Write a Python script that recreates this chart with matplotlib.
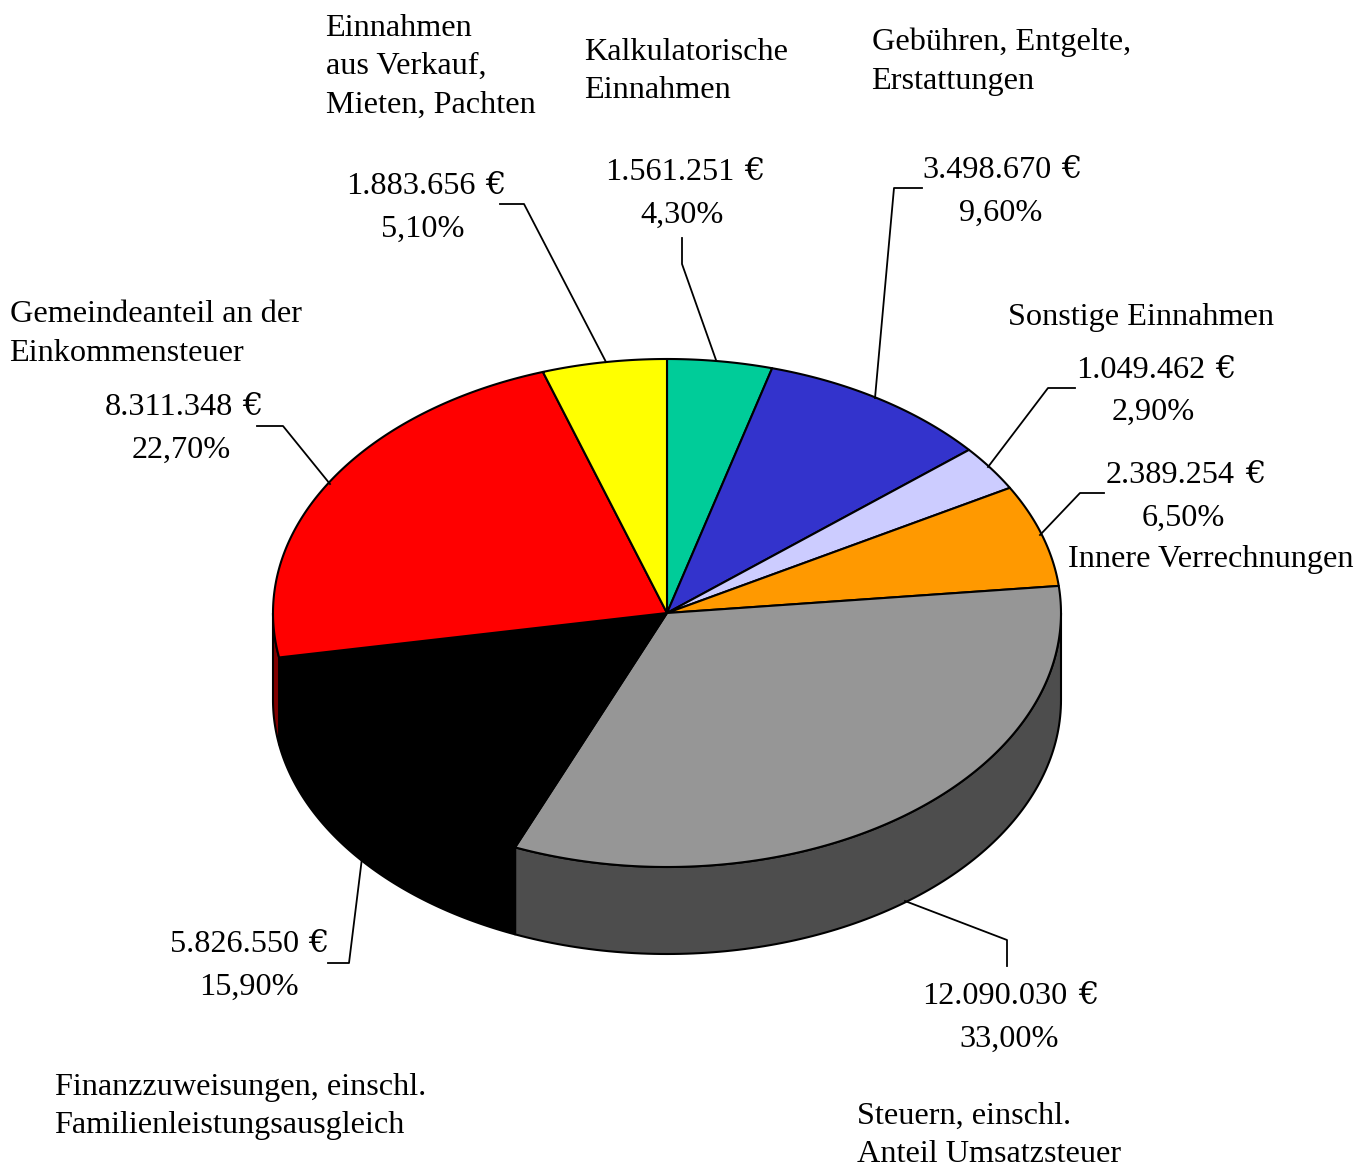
"""
3D style pie chart of municipal income, drawn as polygons on a pixel sized axes.
"""

import numpy as np
import matplotlib
matplotlib.use('Agg')
import matplotlib.pyplot as plt

# Slices, clockwise from the top of the pie
names = ['Kalkulatorische Einnahmen', 'Gebühren, Entgelte, Erstattungen', 'Sonstige Einnahmen',
         'Innere Verrechnungen', 'Steuern, einschl. Anteil Umsatzsteuer',
         'Finanzzuweisungen, einschl. Familienleistungsausgleich',
         'Gemeindeanteil an der Einkommensteuer', 'Einnahmen aus Verkauf, Mieten, Pachten']
shares = [4.3, 9.6, 2.9, 6.5, 33.0, 15.9, 22.7, 5.1]
top_colors = ['#00cc99', '#3333cc', '#ccccff', '#ff9900', '#969696', '#000000', '#ff0000', '#ffff00']
wall_colors = ['#006650', '#1a1a66', '#666680', '#804d00', '#4d4d4d', '#000000', '#800000', '#808000']

# Text blocks: left edge, baseline of each line
name_lines = [
    ('Einnahmen', 325.5, 36), ('aus Verkauf,', 326, 73.5), ('Mieten, Pachten', 326, 112.5),
    ('Kalkulatorische', 584.5, 60), ('Einnahmen', 584.5, 98),
    ('Gebühren, Entgelte,', 872, 50), ('Erstattungen', 871.5, 89),
    ('Sonstige Einnahmen', 1008, 325.5),
    ('Innere Verrechnungen', 1068, 567.5),
    ('Gemeindeanteil an der', 10, 322.5), ('Einkommensteuer', 9.5, 361),
    ('Finanzzuweisungen, einschl.', 55, 1094.5), ('Familienleistungsausgleich', 54.5, 1132.5),
    ('Steuern, einschl.', 857, 1124), ('Anteil Umsatzsteuer', 857, 1162),
]
value_lines = [
    ('1.883.656', 346.5, 194.5), ('5,10%', 381, 237),
    ('1.561.251', 605.5, 180), ('4,30%', 640, 223),
    ('3.498.670', 922.5, 178.5), ('9,60%', 959, 221),
    ('1.049.462', 1076.5, 377.5), ('2,90%', 1112, 420),
    ('2.389.254', 1105.5, 483), ('6,50%', 1142, 526),
    ('8.311.348', 105, 415), ('22,70%', 132, 458),
    ('5.826.550', 170, 952.5), ('15,90%', 199, 995),
    ('12.090.030', 922.5, 1004.5), ('33,00%', 959, 1047),
]
# The euro sign sits apart, it is wider than the serif one
euro_lines = [(485, 194.5), (744, 180), (1061, 178.5), (1215, 377.5),
              (1245, 483), (242, 415), (308, 952.5), (1078, 1004.5)]

# Leader lines from the value labels to the pie
leaders = [
    ([500, 524, 606], [204, 204, 362]),
    ([682, 682, 716], [238, 264, 360]),
    ([922, 894, 875], [188, 188, 398]),
    ([1075, 1048, 988], [388, 388, 467]),
    ([1104, 1080, 1040], [493, 493, 535]),
    ([257, 283, 330], [426, 426, 484]),
    ([328, 349, 362], [963, 963, 858]),
    ([905, 1007, 1007], [901, 940, 966]),
]

WIDTH, HEIGHT = 1369, 1167
CX, CY = 667, 613
RX, RY = 394, 254
DEPTH = 87
FONT_SIZE = 23.2


def rim(t):
    """Point on the top ellipse; t in degrees clockwise from the top."""
    r = np.radians(t)
    return CX + RX * np.sin(r), CY - RY * np.cos(r)


def draw_walls(ax, edges):
    # only the part of the side facing the viewer, 90 to 270 degrees
    for i in range(len(shares)):
        a, b = max(edges[i], 90), min(edges[i + 1], 270)
        if a >= b:
            continue
        t = np.linspace(a, b, 120)
        x, y = rim(t)
        xs = np.concatenate([x, x[::-1]])
        ys = np.concatenate([y, y[::-1] + DEPTH])
        ax.fill(xs, ys, facecolor=wall_colors[i], edgecolor='black', linewidth=1.5, joinstyle='round')


def draw_top(ax, edges):
    for i in range(len(shares)):
        t = np.linspace(edges[i], edges[i + 1], 160)
        x, y = rim(t)
        ax.fill(np.concatenate([[CX], x]), np.concatenate([[CY], y]),
                facecolor=top_colors[i], edgecolor='black', linewidth=1.5, joinstyle='round')


def main():
    plt.rcParams['font.family'] = ['Liberation Serif', 'DejaVu Serif']
    fig = plt.figure(figsize=(WIDTH / 100, HEIGHT / 100), dpi=100)
    ax = fig.add_axes([0, 0, 1, 1])
    ax.set_xlim(0, WIDTH)
    ax.set_ylim(HEIGHT, 0)
    ax.axis('off')

    edges = np.concatenate([[0], np.cumsum(shares)]) / sum(shares) * 360
    draw_walls(ax, edges)
    draw_top(ax, edges)

    for xs, ys in leaders:
        ax.plot(xs, ys, color='black', linewidth=1.3)
    for text, x, y in name_lines + value_lines:
        ax.text(x, y, text, fontsize=FONT_SIZE, ha='left', va='baseline', color='black')
    for x, y in euro_lines:
        ax.text(x, y, '€', fontsize=FONT_SIZE, family='DejaVu Serif', ha='left', va='baseline', color='black')

    fig.savefig('out.png', dpi=100, facecolor='white')


if __name__ == '__main__':
    main()
